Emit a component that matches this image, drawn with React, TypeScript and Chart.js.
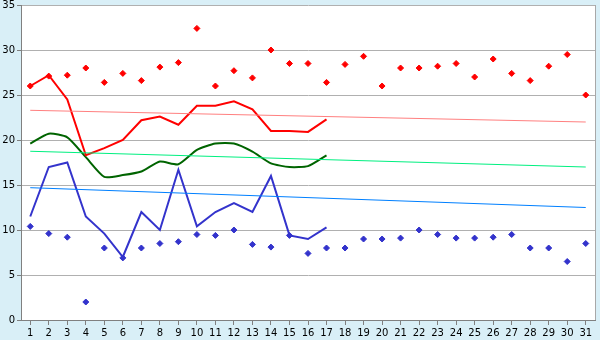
import React, { useEffect, useRef } from "react";
import { Chart, registerables } from "chart.js";

Chart.register(...registerables);

const days = ["1","2","3","4","5","6","7","8","9","10","11","12","13","14","15","16","17","18","19","20","21","22","23","24","25","26","27","28","29","30","31"];

const redLine = [26.0, 27.2, 24.5, 18.3, 19.1, 20.0, 22.2, 22.6, 21.7, 23.8, 23.8, 24.3, 23.4, 21.0, 21.0, 20.9, 22.3];
const greenLine = [19.6, 20.7, 20.3, 18.1, 15.9, 16.1, 16.5, 17.6, 17.3, 18.9, 19.6, 19.6, 18.7, 17.4, 17.0, 17.1, 18.3];
const blueLine = [11.5, 17.0, 17.5, 11.5, 9.6, 7.0, 12.0, 10.0, 16.7, 10.4, 12.0, 13.0, 12.0, 16.0, 9.4, 9.0, 10.3];

const redPoints = [26.0, 27.1, 27.2, 28.0, 26.4, 27.4, 26.6, 28.1, 28.6, 32.4, 26.0, 27.7, 26.9, 30.0, 28.5, 28.5, 26.4, 28.4, 29.3, 26.0, 28.0, 28.0, 28.2, 28.5, 27.0, 29.0, 27.4, 26.6, 28.2, 29.5, 25.0];
const bluePoints = [10.4, 9.6, 9.2, 2.0, 8.0, 6.9, 8.0, 8.5, 8.7, 9.5, 9.4, 10.0, 8.4, 8.1, 9.4, 7.4, 8.0, 8.0, 9.0, 9.0, 9.1, 10.0, 9.5, 9.1, 9.1, 9.2, 9.5, 8.0, 8.0, 6.5, 8.5];

// trend lines: value at first and last day only
const redTrendEnds = [23.3, 22.0];
const greenTrendEnds = [18.75, 17.0];
const blueTrendEnds = [14.7, 12.5];

const yTicks = [0, 5, 10, 15, 20, 25, 30, 35];

function trend(ends: number[]) {
  return days.map((_, i) => (i === 0 ? ends[0] : i === days.length - 1 ? ends[1] : null));
}

const bgPlugin = {
  id: "bgPlugin",
  beforeDraw(chart: any) {
    const { ctx, chartArea } = chart;
    ctx.save();
    ctx.fillStyle = "#d9eff7";
    ctx.fillRect(0, 0, chart.width, chart.height);
    ctx.fillStyle = "#ffffff";
    ctx.fillRect(chartArea.left, chartArea.top, chartArea.right - chartArea.left, chartArea.bottom - chartArea.top);
    ctx.restore();
  },
  afterDraw(chart: any) {
    const { ctx, chartArea } = chart;
    ctx.save();
    ctx.strokeStyle = "#a8a8a8";
    ctx.lineWidth = 1;
    ctx.beginPath();
    ctx.moveTo(Math.round(chartArea.right) + 0.5, chartArea.top);
    ctx.lineTo(Math.round(chartArea.right) + 0.5, chartArea.bottom);
    ctx.stroke();
    ctx.restore();
  },
};

export default function App() {
  const ref = useRef<HTMLCanvasElement | null>(null);
  useEffect(() => {
    if (!ref.current) return;
    const chart = new Chart(ref.current, {
      type: "line",
      data: {
        labels: days,
        datasets: [
          { data: trend(redTrendEnds), borderColor: "#ff8080", borderWidth: 1, pointRadius: 0, spanGaps: true },
          { data: trend(greenTrendEnds), borderColor: "#00f080", borderWidth: 1, pointRadius: 0, spanGaps: true },
          { data: trend(blueTrendEnds), borderColor: "#0080ff", borderWidth: 1, pointRadius: 0, spanGaps: true },
          { data: redLine, borderColor: "#ff0000", borderWidth: 2, pointRadius: 0, tension: 0 },
          { data: greenLine, borderColor: "#006400", borderWidth: 2, pointRadius: 0, tension: 0.2 },
          { data: blueLine, borderColor: "#3333cc", borderWidth: 2, pointRadius: 0, tension: 0 },
          { data: redPoints, showLine: false, pointStyle: "rectRot", pointRadius: 3, pointBackgroundColor: "#ff0000", pointBorderColor: "#ff0000", borderColor: "#ff0000" },
          { data: bluePoints, showLine: false, pointStyle: "rectRot", pointRadius: 3, pointBackgroundColor: "#3333cc", pointBorderColor: "#3333cc", borderColor: "#3333cc" },
        ],
      },
      options: {
        animation: false,
        responsive: false,
        devicePixelRatio: 1,
        layout: { padding: { top: 5, right: 5, left: 0, bottom: 0 } },
        plugins: { legend: { display: false }, tooltip: { enabled: false } },
        scales: {
          x: {
            type: "category",
            offset: true,
            grid: { display: true, drawOnChartArea: false, tickLength: 5, color: "#808080", offset: false },
            border: { color: "#808080" },
            ticks: { color: "#000", font: { family: "DejaVu Sans", size: 10 }, padding: 2, maxRotation: 0, autoSkip: false },
            afterFit: (s: any) => { s.height = 20; s.paddingLeft = 0; s.paddingRight = 0; },
          },
          y: {
            min: 0,
            max: 35,
            afterBuildTicks: (s: any) => { s.ticks = yTicks.map((v) => ({ value: v })); },
            grid: { color: "#b0b0b0", tickLength: 4, tickColor: "#808080" },
            border: { color: "#808080" },
            ticks: { color: "#000", font: { family: "DejaVu Sans", size: 10 }, padding: 2 },
            afterFit: (s: any) => { s.width = 21; s.paddingTop = 0; s.paddingBottom = 0; },
          },
        },
      },
      plugins: [bgPlugin],
    });
    return () => chart.destroy();
  }, []);
  return (
    <div style={{ position: "fixed", left: 0, top: 0, width: 600, height: 340, background: "#d9eff7" }}>
      <canvas ref={ref} width={600} height={340} style={{ display: "block" }} />
    </div>
  );
}
